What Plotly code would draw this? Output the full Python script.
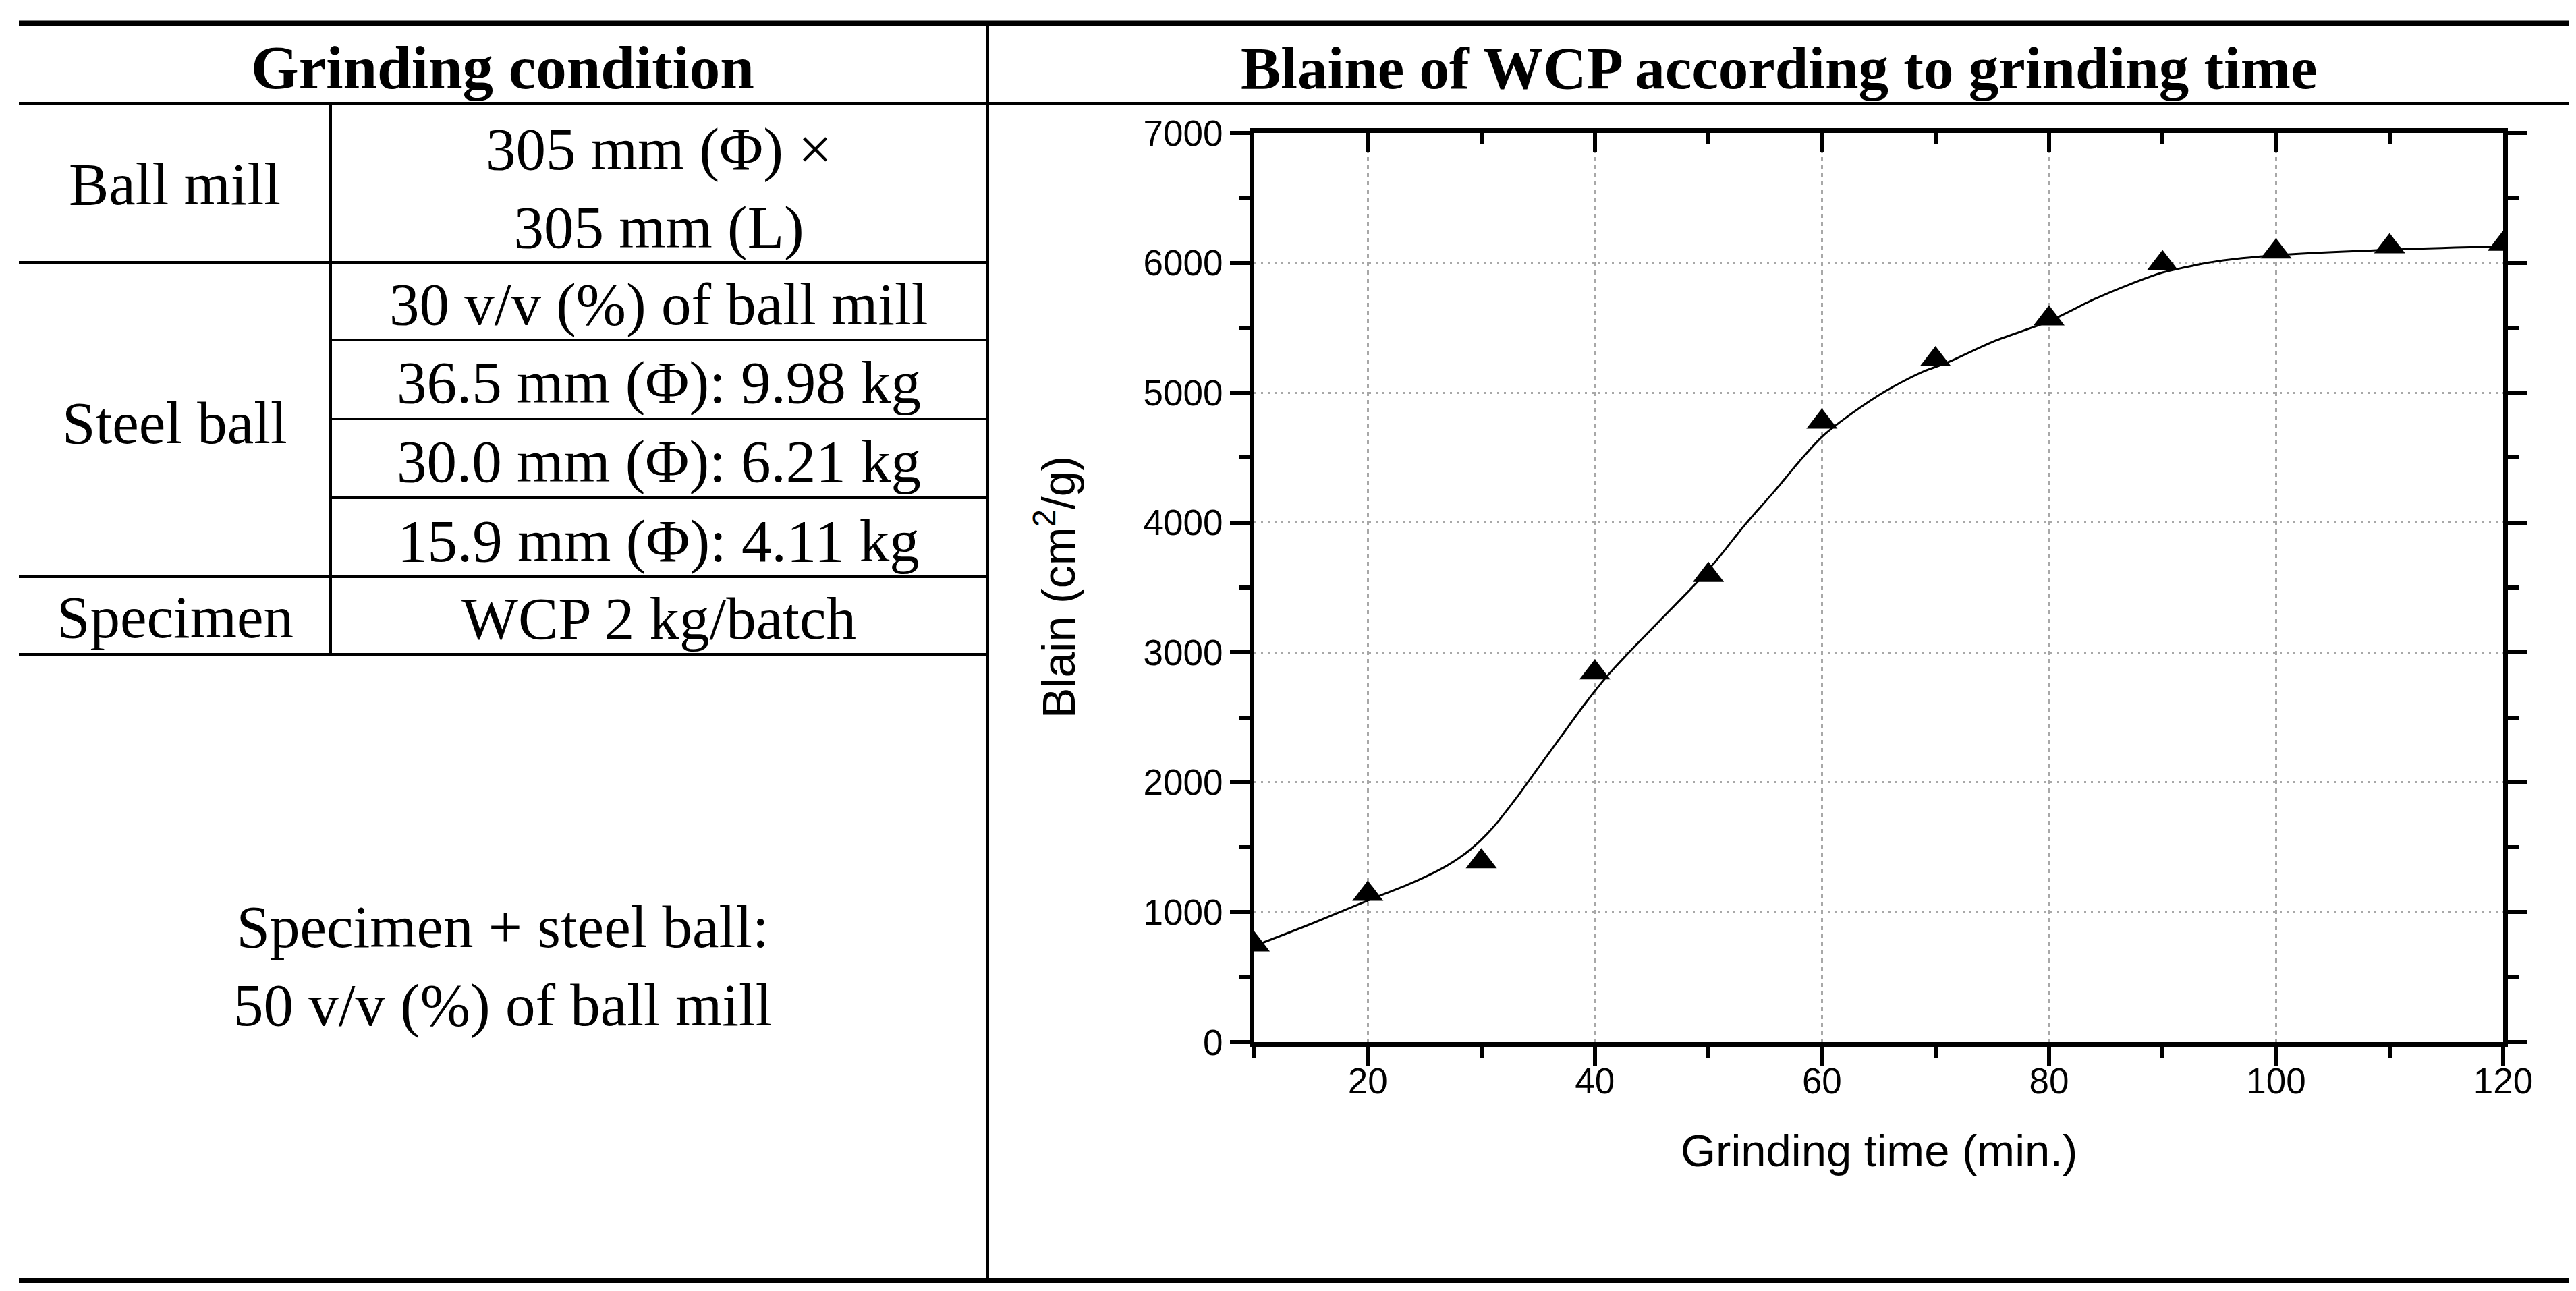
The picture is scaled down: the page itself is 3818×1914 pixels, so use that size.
import plotly.graph_objects as go

# 数据：粉磨时间 (min) 与 Blaine 比表面积 (cm2/g)
grinding_time = [10, 20, 30, 40, 50, 60, 70, 80, 90, 100, 110, 120]
blaine = [750, 1140, 1390, 2845, 3595, 4775, 5255, 5570, 5995, 6085, 6125, 6145]

# 平滑曲线（从图上读取的点）
fit_time = [10, 15, 20, 24, 27, 29, 31, 33, 35, 37, 39, 41, 43, 46, 49, 51, 53, 56, 58,
            60, 62, 65, 67, 69, 71, 75, 80, 84, 87, 90, 92, 94, 97, 100, 110, 120]
fit_blaine = [740, 910, 1090, 1230, 1360, 1480, 1650, 1870, 2110, 2350, 2590, 2810, 3000,
              3270, 3540, 3740, 3960, 4260, 4470, 4660, 4800, 4980, 5080, 5165, 5230, 5390,
              5550, 5720, 5830, 5925, 5965, 6000, 6035, 6058, 6100, 6127]

x_ticks = [20, 40, 60, 80, 100, 120]
y_ticks = [0, 1000, 2000, 3000, 4000, 5000, 6000, 7000]

# 表格文字
header_left = 'Grinding condition'
header_right = 'Blaine of WCP according to grinding time'
row_names = ['Ball mill', 'Steel ball', 'Specimen']
ball_mill_text = '305 mm (Φ) ×<br>305 mm (L)'
steel_ball_rows = ['30 v/v (%) of ball mill', '36.5 mm (Φ): 9.98 kg',
                   '30.0 mm (Φ): 6.21 kg', '15.9 mm (Φ): 4.11 kg']
specimen_text = 'WCP 2 kg/batch'
note_text = 'Specimen + steel ball:<br>50 v/v (%) of ball mill'

W, H = 3818, 1914


def px(x):
    return x / W


def py(y):
    return 1 - y / H


SERIF = 'Liberation Serif, Times New Roman, serif'
SANS = 'Liberation Sans, Arial, sans-serif'

fig = go.Figure()

fig.add_trace(go.Scatter(
    x=fit_time, y=fit_blaine, mode='lines',
    line=dict(color='black', width=3, shape='spline', smoothing=0.8),
    showlegend=False, hoverinfo='skip'
))
fig.add_trace(go.Scatter(
    x=grinding_time, y=blaine, mode='markers',
    marker=dict(symbol='triangle-up', size=40, color='black'),
    showlegend=False
))
# 顶部坐标轴（刻度朝内）需要一条隐形的轨迹
fig.add_trace(go.Scatter(
    x=grinding_time[:1], y=blaine[:1], mode='markers', xaxis='x2',
    marker=dict(opacity=0), showlegend=False, hoverinfo='skip'
))

# 表格线
lines = [
    # (x0, y0, x1, y1, width)
    (20, 26.5, 3800, 26.5, 8),
    (20, 1890, 3800, 1890, 8),
    (20, 145.5, 3800, 145.5, 5),
    (1455.5, 26.5, 1455.5, 1890, 5),
    (482, 145.5, 482, 962, 4),
    (20, 381, 1455, 381, 4),
    (482, 496, 1455, 496, 4),
    (482, 613, 1455, 613, 4),
    (482, 730, 1455, 730, 4),
    (20, 847, 1455, 847, 4),
    (20, 962, 1455, 962, 4),
]
for x0, y0, x1, y1, w in lines:
    fig.add_shape(type='line', xref='paper', yref='paper',
                  x0=px(x0), y0=py(y0), x1=px(x1), y1=py(y1),
                  line=dict(color='black', width=w))


def add_text(text, x, y, size=89, bold=False, family=SERIF, angle=0):
    if bold:
        text = f'<b>{text}</b>'
    fig.add_annotation(text=text, x=px(x), y=py(y), xref='paper', yref='paper',
                       showarrow=False, xanchor='center', yanchor='middle',
                       textangle=angle, align='center',
                       font=dict(family=family, size=size, color='black'))


add_text(header_left, 737, 93, size=91, bold=True)
add_text(header_right, 2628, 93, size=89, bold=True)
add_text(row_names[0], 251, 265)
add_text(ball_mill_text, 968, 271)
add_text(row_names[1], 251, 619)
for txt, yc in zip(steel_ball_rows, [443, 559, 676, 794]):
    add_text(txt, 968, yc)
add_text(row_names[2], 251, 907)
add_text(specimen_text, 968, 909)
add_text(note_text, 737, 1424)

# 坐标轴标题
add_text('Blain (cm<sup>2</sup>/g)', 1556, 863, size=68, family=SANS, angle=-90)
add_text('Grinding time (min.)', 2777, 1697, size=67, family=SANS)

x_dom = [px(1851), px(3702)]
y_dom = [py(1537), py(189)]

fig.update_layout(
    width=W, height=H,
    margin=dict(l=0, r=0, t=0, b=0),
    paper_bgcolor='white', plot_bgcolor='white',
    showlegend=False,
    xaxis=dict(
        domain=x_dom, range=[10, 120], tickvals=x_ticks,
        ticks='outside', ticklen=29, tickwidth=6, tickcolor='black',
        minor=dict(dtick=10, tick0=0, ticks='outside', ticklen=16, tickwidth=6,
                   tickcolor='black', showgrid=False),
        showline=True, linewidth=7, linecolor='black', mirror=True,
        showgrid=True, gridcolor='#a8a8a8', gridwidth=3, griddash='6px,6px',
        zeroline=False, automargin=False, ticklabelstandoff=-24,
        tickfont=dict(family=SANS, size=53, color='black'),
        fixedrange=True
    ),
    xaxis2=dict(
        overlaying='x', side='top', anchor='y', range=[10, 120], tickvals=x_ticks,
        ticks='inside', ticklen=29, tickwidth=6, tickcolor='black',
        minor=dict(dtick=10, tick0=0, ticks='inside', ticklen=16, tickwidth=6,
                   tickcolor='black', showgrid=False),
        showticklabels=False, showline=False, showgrid=False, zeroline=False,
        automargin=False, fixedrange=True
    ),
    yaxis=dict(
        domain=y_dom, range=[0, 7000], tickvals=y_ticks,
        ticks='outside', ticklen=29, tickwidth=6, tickcolor='black',
        minor=dict(dtick=500, tick0=0, ticks='outside', ticklen=16, tickwidth=6,
                   tickcolor='black', showgrid=False),
        showline=True, linewidth=7, linecolor='black', mirror='ticks',
        showgrid=True, gridcolor='#a8a8a8', gridwidth=3, griddash='3px,7px',
        zeroline=False, automargin=False,
        tickfont=dict(family=SANS, size=53, color='black'),
        fixedrange=True
    ),
)

fig.write_html('out.html')
